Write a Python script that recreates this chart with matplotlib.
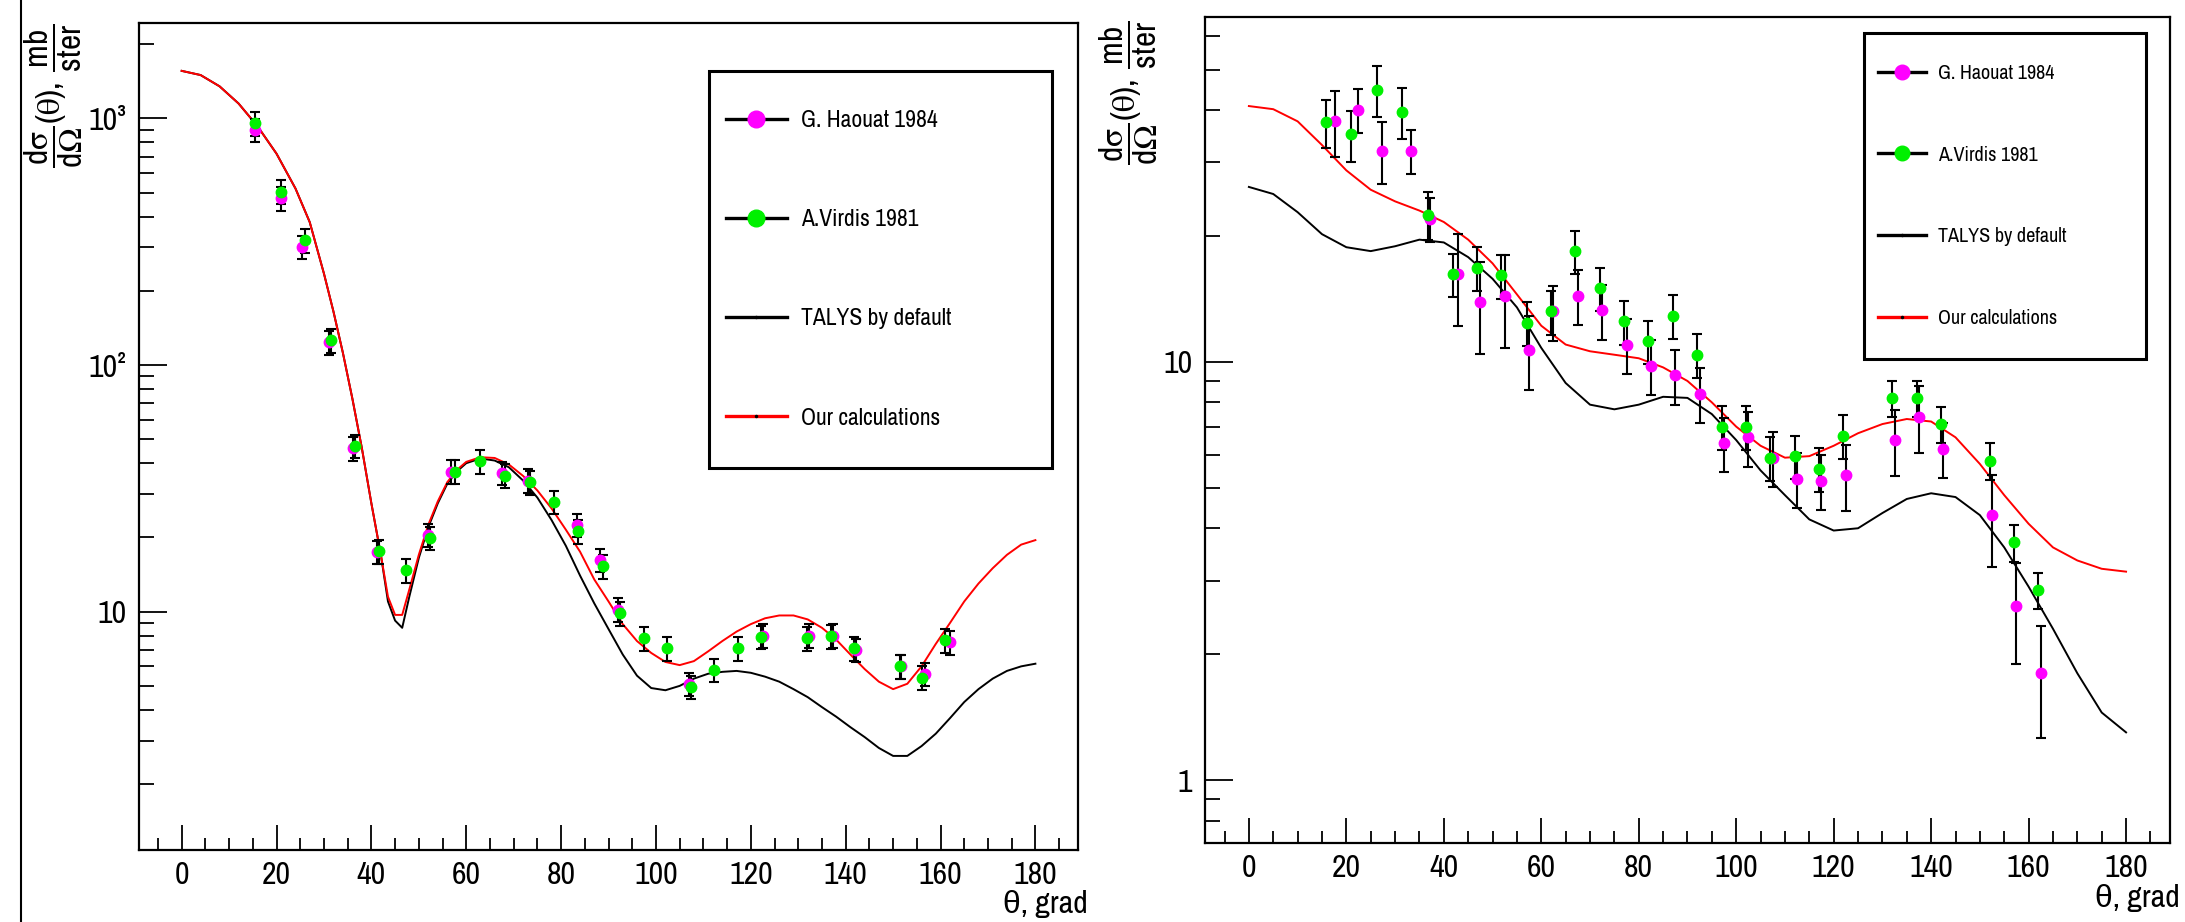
import matplotlib
matplotlib.use('Agg')
import matplotlib.pyplot as plt
import numpy as np
from matplotlib import font_manager
from matplotlib.lines import Line2D
from matplotlib.legend_handler import HandlerLine2D
from matplotlib.ticker import FixedLocator, FixedFormatter, MultipleLocator, LogLocator, NullFormatter

# narrow Helvetica-like face for the tick labels and legend, if one is there
installed = {f.name for f in font_manager.fontManager.ttflist}
narrow = 'Liberation Sans'
for cand in ['Nimbus Sans Narrow', 'Liberation Sans Narrow', 'Arial Narrow', 'Archivo Narrow',
             'Roboto Condensed', 'PT Sans Narrow']:
    if cand in installed:
        narrow = cand
        break

plt.rcParams['font.family'] = [narrow, 'Liberation Sans', 'DejaVu Sans']
plt.rcParams['mathtext.fontset'] = 'custom'
plt.rcParams['mathtext.rm'] = 'Liberation Sans'
plt.rcParams['mathtext.it'] = 'Liberation Sans'
plt.rcParams['mathtext.sf'] = 'Liberation Sans'
plt.rcParams['mathtext.default'] = 'regular'

# ---------------- left panel data ----------------
th_curve_l = [0, 4, 8, 12, 16, 20, 24, 27, 30, 32, 34, 36, 38, 40, 42, 43.5, 45, 46.5, 48, 50, 52, 54, 56,
              58, 60, 63, 66, 69, 72, 75, 78, 81, 84, 87, 90, 93, 96, 99, 102, 105, 108, 111, 114, 117,
              120, 123, 126, 129, 132, 135, 138, 141, 144, 147, 150, 153, 156, 159, 162, 165, 168, 171,
              174, 177, 180]
ours_l = [1560, 1500, 1350, 1150, 930, 720, 520, 380, 235, 165, 112, 73, 46, 27.5, 17, 11.5, 9.7, 9.7,
          12.3, 17, 22.5, 28, 33.5, 37.5, 40.5, 42.3, 42, 39.5, 35.5, 31, 26.2, 21.5, 17.5, 13.5, 11.0,
          8.9, 7.6, 6.8, 6.25, 6.07, 6.3, 6.9, 7.6, 8.3, 8.9, 9.4, 9.65, 9.65, 9.3, 8.6, 7.7, 6.7, 5.85,
          5.2, 4.85, 5.1, 6.0, 7.4, 9.0, 11.0, 13.0, 15.0, 17.0, 18.7, 19.5]
talys_l = [1560, 1500, 1350, 1150, 930, 720, 520, 380, 235, 165, 112, 73, 46, 27.5, 17, 11, 9.2, 8.6,
           11.5, 16.5, 22, 27.5, 33, 37, 40, 41.8, 41, 38.5, 34, 29, 23.5, 18.5, 14, 10.8, 8.5, 6.7, 5.5,
           4.9, 4.8, 5.0, 5.35, 5.6, 5.7, 5.75, 5.65, 5.45, 5.2, 4.85, 4.5, 4.1, 3.75, 3.4, 3.1, 2.8,
           2.6, 2.6, 2.85, 3.2, 3.7, 4.3, 4.85, 5.35, 5.75, 6.0, 6.15]

vir_th_l = [15.5, 21.0, 26.1, 31.4, 36.6, 41.7, 47.2, 52.3, 57.6, 62.9, 68.1, 73.4, 78.4, 83.6, 88.8, 92.4,
            97.5, 102.4, 107.3, 112.3, 117.4, 122.2, 131.8, 136.9, 141.7, 151.4, 156.1, 161.0]
vir_l = [956, 505, 321, 126, 47, 17.6, 14.7, 19.9, 37, 40.7, 35.6, 33.5, 27.9, 21.2, 15.3, 9.85, 7.8, 7.1,
         4.95, 5.8, 7.1, 7.9, 7.8, 7.96, 7.1, 6.0, 5.4, 7.65]
hao_th_l = [15.5, 21.0, 25.4, 31.0, 36.2, 41.2, 52.0, 56.7, 67.5, 73.0, 83.3, 88.3, 92.0, 107.0, 122.6,
            132.2, 137.3, 142.1, 151.7, 156.8, 162.1]
hao_l = [898, 475, 302, 124, 46, 17.5, 20.5, 37, 36.5, 34, 22.5, 16.2, 10.2, 5.1, 8.0, 8.0, 8.0, 7.0, 6.0,
         5.6, 7.5]
rel_err_l = 0.11

# ---------------- right panel data ----------------
th_curve_r = [0, 5, 10, 15, 20, 25, 30, 35, 40, 45, 50, 55, 60, 65, 70, 75, 80, 85, 90, 95, 100, 105, 110,
              115, 120, 125, 130, 135, 140, 145, 150, 155, 160, 165, 170, 175, 180]
ours_r = [40.9, 40.2, 37.6, 33.0, 28.7, 25.8, 24.2, 23.0, 21.6, 19.6, 17.2, 14.5, 12.2, 11.0, 10.6, 10.4,
          10.2, 9.7, 9.0, 8.0, 7.0, 6.3, 5.9, 5.95, 6.3, 6.75, 7.1, 7.3, 7.2, 6.6, 5.7, 4.8, 4.1, 3.6, 3.35,
          3.2, 3.15]
talys_r = [26.2, 25.2, 22.8, 20.2, 18.8, 18.4, 18.9, 19.6, 19.3, 17.8, 15.8, 13.5, 10.8, 8.9, 7.9, 7.7, 7.9,
           8.25, 8.2, 7.5, 6.5, 5.5, 4.8, 4.2, 3.95, 4.0, 4.35, 4.7, 4.85, 4.75, 4.3, 3.6, 2.9, 2.3, 1.8,
           1.45, 1.3]

vir_th_r = [15.8, 21.0, 26.2, 31.5, 36.8, 41.8, 46.9, 51.7, 57, 62, 67, 72, 77, 82, 87, 92, 97, 102, 107,
            112, 117, 122, 132, 137, 142, 152, 157, 162]
vir_r = [37.4, 35.0, 44.7, 39.6, 22.5, 16.2, 16.8, 16.1, 12.4, 13.2, 18.4, 15.0, 12.5, 11.2, 12.9, 10.4, 7.0,
         7.0, 5.9, 5.95, 5.55, 6.66, 8.2, 8.2, 7.1, 5.8, 3.7, 2.85]
vir_rel_r = [0.13, 0.14, 0.14, 0.14, 0.13, 0.12, 0.12, 0.12, 0.12, 0.12, 0.12, 0.12, 0.12, 0.12, 0.12, 0.12,
             0.12, 0.12, 0.12, 0.12, 0.12, 0.12, 0.1, 0.1, 0.1, 0.1, 0.1, 0.1]
hao_th_r = [17.7, 22.3, 27.4, 33.2, 37.2, 43.0, 47.4, 52.5, 57.5, 62.5, 67.5, 72.5, 77.5, 82.5, 87.5, 92.5,
            97.5, 102.5, 107.5, 112.5, 117.5, 122.5, 132.5, 137.5, 142.5, 152.5, 157.5, 162.5]
hao_r = [37.6, 40.1, 32.0, 32.0, 22, 16.2, 13.9, 14.4, 10.7, 13.2, 14.4, 13.3, 11.0, 9.8, 9.3, 8.4, 6.4, 6.6,
         5.9, 5.25, 5.2, 5.37, 6.5, 7.4, 6.2, 4.3, 2.6, 1.8]
hao_rel_r = [0.18, 0.12, 0.17, 0.12, 0.12, 0.25, 0.25, 0.25, 0.2, 0.15, 0.15, 0.15, 0.15, 0.15, 0.15, 0.15,
             0.15, 0.15, 0.15, 0.15, 0.15, 0.18, 0.18, 0.18, 0.15, 0.25, 0.27, 0.3]

labels = ['G. Haouat 1984', 'A.Virdis 1981', 'TALYS by default', 'Our calculations']
green = '#00f000'
magenta = '#ff00ff'

fig = plt.figure(figsize=(21.85, 9.22), dpi=100)
axL = fig.add_axes([0.0636, 0.0781, 0.4298, 0.897])
axR = fig.add_axes([0.5515, 0.0857, 0.4416, 0.8959])


def draw_points(ax, th, val, rel, color):
    val = np.array(val)
    err = val * np.array(rel)
    ax.errorbar(th, val, yerr=err, fmt='o', color=color, ms=7.5, mec=color, ecolor='black',
                elinewidth=1.5, capsize=3.5, capthick=1.5, zorder=4)


def style_axis(ax, ylim, majors, majlabels, lab_y):
    ax.set_yscale('log')
    ax.set_xlim(-9, 189)
    ax.set_ylim(*ylim)
    ax.xaxis.set_major_locator(MultipleLocator(20))
    ax.xaxis.set_minor_locator(MultipleLocator(5))
    ax.yaxis.set_major_locator(FixedLocator(majors))
    ax.yaxis.set_major_formatter(FixedFormatter(majlabels))
    ax.yaxis.set_minor_locator(LogLocator(base=10, subs=np.arange(2, 10)))
    ax.yaxis.set_minor_formatter(NullFormatter())
    ax.tick_params(which='both', direction='in', width=1.3, labelsize=23, colors='black')
    ax.tick_params(axis='x', which='major', length=18, pad=8)
    ax.tick_params(axis='x', which='minor', length=9)
    ax.tick_params(axis='y', which='major', length=20, pad=9)
    ax.tick_params(axis='y', which='minor', length=11)
    ax.xaxis.set_ticks_position('bottom')
    ax.yaxis.set_ticks_position('left')
    for s in ax.spines.values():
        s.set_linewidth(1.6)
    ax.text(1.01, lab_y, 'θ, grad', transform=ax.transAxes, ha='right', va='top', fontsize=23)


# left panel
axL.plot(th_curve_l, talys_l, color='black', lw=1.4, zorder=3)
axL.plot(th_curve_l, ours_l, color='#ff0000', lw=1.4, zorder=3)
draw_points(axL, hao_th_l, hao_l, [rel_err_l] * len(hao_l), magenta)
draw_points(axL, vir_th_l, vir_l, [rel_err_l] * len(vir_l), green)
style_axis(axL, (1.08, 2440), [10, 100, 1000], ['10', '10²', '10³'], -0.048)

# right panel
axR.plot(th_curve_r, talys_r, color='black', lw=1.4, zorder=3)
axR.plot(th_curve_r, ours_r, color='#ff0000', lw=1.4, zorder=3)
draw_points(axR, hao_th_r, hao_r, hao_rel_r, magenta)
draw_points(axR, vir_th_r, vir_r, vir_rel_r, green)
style_axis(axR, (0.707, 66.8), [1, 10], ['1', '10'], -0.05)


class ShiftedLine(HandlerLine2D):
    # tall legend rows put the handle above the text; pull it back down
    def __init__(self, shift, **kw):
        super().__init__(**kw)
        self.shift = shift

    def create_artists(self, legend, orig_handle, xdescent, ydescent, width, height, fontsize, trans):
        arts = super().create_artists(legend, orig_handle, xdescent, ydescent, width, height, fontsize, trans)
        for a in arts:
            a.set_ydata(np.asarray(a.get_ydata()) - self.shift * fontsize)
        return arts


def make_handles(ms):
    return [Line2D([], [], color='black', lw=2.4, marker='o', ms=ms, mfc=magenta, mec=magenta),
            Line2D([], [], color='black', lw=2.4, marker='o', ms=ms, mfc=green, mec=green),
            Line2D([], [], color='black', lw=2.4, marker='.', ms=3, mfc='black', mec='black'),
            Line2D([], [], color='#ff0000', lw=2.4, marker='.', ms=3, mfc='black', mec='black')]


hL = make_handles(12)
legL = axL.legend(hL, labels, loc='upper left', bbox_to_anchor=(0.607, 0, 0.365, 0.942),
                  mode='expand', borderaxespad=0, fontsize=17, handlelength=2.6, handleheight=4.0,
                  labelspacing=1.35, borderpad=0.7, handletextpad=0.6, fancybox=False, framealpha=1,
                  edgecolor='black', handler_map={h: ShiftedLine(0.5) for h in hL})
legL.get_frame().set_linewidth(2.2)

hR = make_handles(10.5)
legR = axR.legend(hR, labels, loc='upper left', bbox_to_anchor=(0.683, 0, 0.292, 0.981),
                  mode='expand', borderaxespad=0, fontsize=14.5, handlelength=2.4, handleheight=3.7,
                  labelspacing=1.4, borderpad=0.7, handletextpad=0.55, fancybox=False, framealpha=1,
                  edgecolor='black', handler_map={h: ShiftedLine(0.45) for h in hR})
legR.get_frame().set_linewidth(2.2)

ylab = r'$\dfrac{d\sigma}{d\Omega}(\theta),\,\dfrac{mb}{ster}$'
fig.text(54 / 2185, 1 - 24 / 922, ylab, rotation=90, ha='center', va='top', fontsize=24)
fig.text(1129 / 2185, 1 - 21 / 922, ylab, rotation=90, ha='center', va='top', fontsize=24)

# thin frame line at the left of the screenshot
fig.add_artist(Line2D([21 / 2185, 21 / 2185], [0, 1], color='black', lw=1.5))

fig.savefig('out.png', dpi=100)
